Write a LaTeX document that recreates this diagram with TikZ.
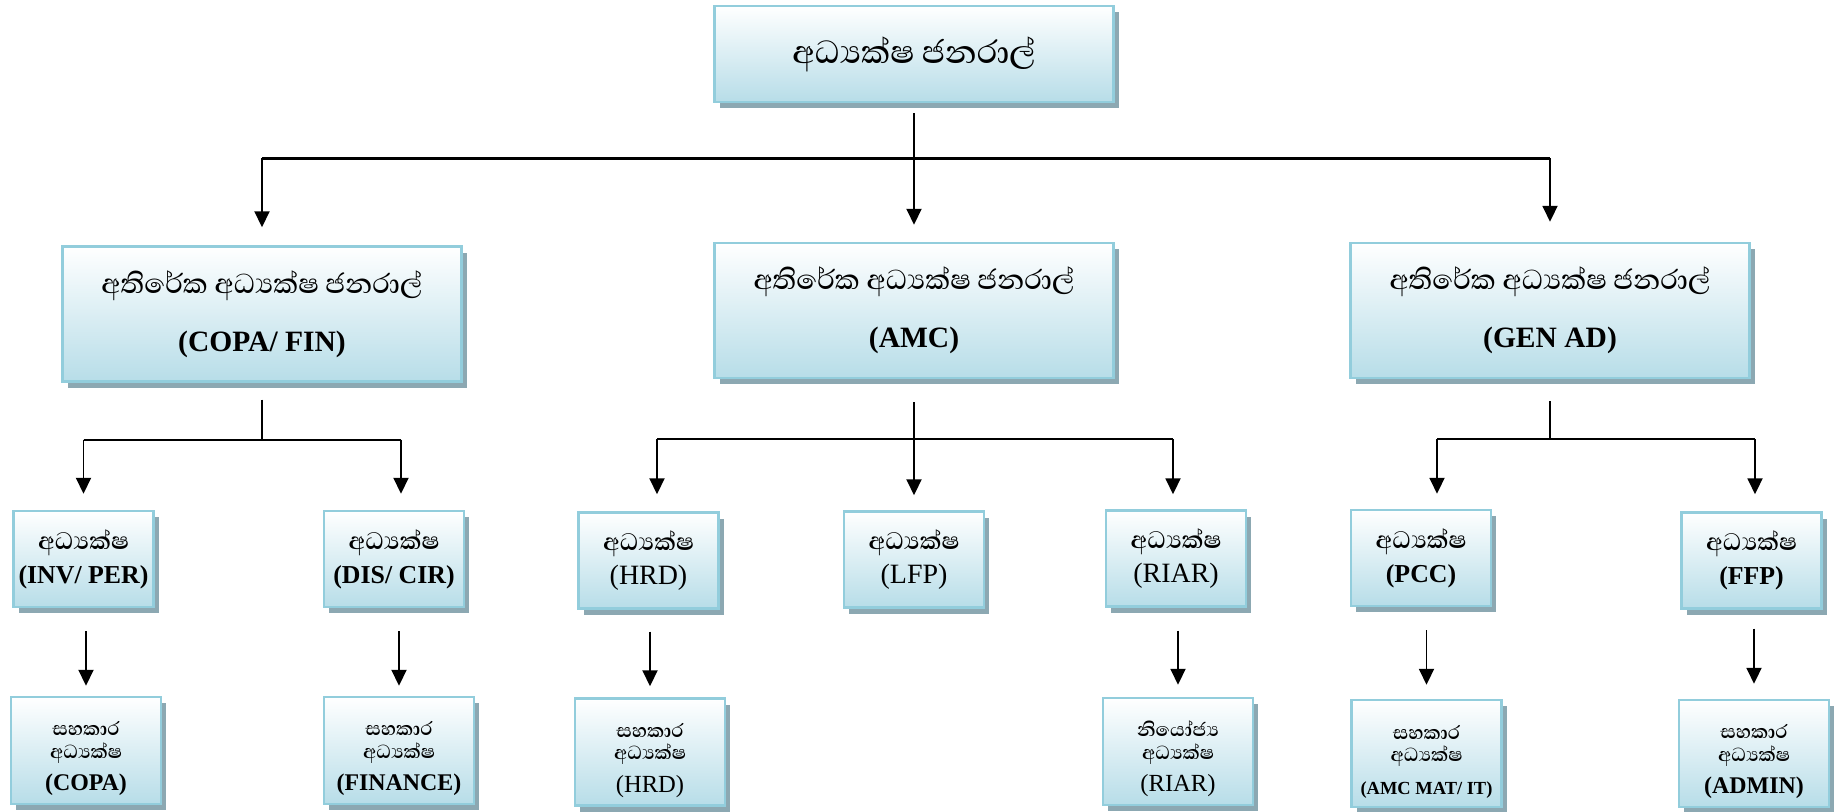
\documentclass[tikz,border=0pt]{standalone}
\usepackage{fontspec}
\setmainfont{Liberation Serif}
\newfontfamily\sinhfont[Script=Sinhala, BoldFont={* SemiBold}]{Abhaya Libre}
\newfontfamily\sinhmed[Script=Sinhala]{Abhaya Libre Medium}
\usepackage{xcolor}
\usetikzlibrary{positioning, arrows.meta, shadows}
\definecolor{BoxBlue}{RGB}{183, 221, 232}
\definecolor{BoxEdge}{RGB}{146, 205, 220}
\definecolor{ShadowGrey}{RGB}{140, 168, 178}

\begin{document}
\begin{tikzpicture}[
            box/.style={draw=BoxEdge, line width=1.4pt, top color=white, bottom color=BoxBlue, align=center, inner sep=2pt, drop shadow={shadow xshift=0.1cm, shadow yshift=-0.12cm, fill=ShadowGrey, opacity=1}},
            topbox/.style={box, minimum width=7.98cm, minimum height=1.92cm, font=\fontsize{23.4}{26}\selectfont},
            addbox/.style={box, minimum width=7.98cm, minimum height=2.7cm, font=\bfseries\fontsize{16.8}{20}\selectfont},
            dirbox/.style={box, minimum width=2.8cm, minimum height=1.92cm, font=\bfseries\fontsize{14.7}{17.6}\selectfont},
            asstbox/.style={box, minimum width=3cm, minimum height=2.14cm, font=\bfseries\fontsize{13.6}{15.3}\selectfont},
            link/.style={line width=1.1pt},
            arrow/.style={link, -{Triangle[length=0.32cm, width=0.3cm]}}
        ]
            \useasboundingbox (0,0) rectangle (36.72,-16.22);
            % director general
            \node[topbox] (dg) at (18.28,-1.08) {\sinhmed අධ්^^^^200dයක්ෂ ජනරාල්};
            % additional directors general
            \node[addbox] (a1) at (5.24,-6.28) {{\sinhmed\mdseries\fontsize{20}{20}\selectfont අතිරේක අධ්^^^^200dයක්ෂ ජනරාල්}\\[13pt](COPA/ FIN)};
            \node[addbox] (a2) at (18.28,-6.21) {{\sinhmed\mdseries\fontsize{20}{20}\selectfont අතිරේක අධ්^^^^200dයක්ෂ ජනරාල්}\\[13pt](AMC)};
            \node[addbox] (a3) at (31.0,-6.21) {{\sinhmed\mdseries\fontsize{20}{20}\selectfont අතිරේක අධ්^^^^200dයක්ෂ ජනරාල්}\\[13pt](GEN AD)};
            % directors
            \node[dirbox] (d1) at (1.67,-11.18) {{\sinhfont\fontsize{17.4}{17.6}\selectfont අධ්^^^^200dයක්ෂ}\\[1.7pt](INV/ PER)};
            \node[dirbox] (d2) at (7.88,-11.18) {{\sinhfont\fontsize{17.4}{17.6}\selectfont අධ්^^^^200dයක්ෂ}\\[1.7pt](DIS/ CIR)};
            \node[dirbox, font=\fontsize{15.9}{17.6}\selectfont] (d3) at (12.97,-11.21) {{\sinhfont\bfseries\fontsize{17.4}{17.6}\selectfont අධ්^^^^200dයක්ෂ}\\[1.7pt](HRD)};
            \node[dirbox, font=\fontsize{15.9}{17.6}\selectfont] (d4) at (18.28,-11.19) {{\sinhfont\bfseries\fontsize{17.4}{17.6}\selectfont අධ්^^^^200dයක්ෂ}\\[1.7pt](LFP)};
            \node[dirbox, font=\fontsize{15.9}{17.6}\selectfont] (d5) at (23.52,-11.17) {{\sinhfont\bfseries\fontsize{17.4}{17.6}\selectfont අධ්^^^^200dයක්ෂ}\\[1.7pt](RIAR)};
            \node[dirbox] (d6) at (28.42,-11.16) {{\sinhfont\fontsize{17.4}{17.6}\selectfont අධ්^^^^200dයක්ෂ}\\[1.7pt](PCC)};
            \node[dirbox] (d7) at (35.03,-11.21) {{\sinhfont\fontsize{17.4}{17.6}\selectfont අධ්^^^^200dයක්ෂ}\\[1.7pt](FFP)};
            % assistant and deputy directors
            \node[asstbox] (s1) at (1.72,-15.01) {{\sinhfont\fontsize{13.8}{15.3}\selectfont\rule{0pt}{17.5pt}සහකාර}\\[-2.5pt]{\sinhfont\fontsize{13.8}{15.3}\selectfont අධ්^^^^200dයක්ෂ}\\[3.2pt](COPA)};
            \node[asstbox] (s2) at (7.98,-15.01) {{\sinhfont\fontsize{13.8}{15.3}\selectfont\rule{0pt}{17.5pt}සහකාර}\\[-2.5pt]{\sinhfont\fontsize{13.8}{15.3}\selectfont අධ්^^^^200dයක්ෂ}\\[3.2pt](FINANCE)};
            \node[asstbox, font=\fontsize{14}{15.3}\selectfont] (s3) at (13.0,-15.04) {{\sinhfont\bfseries\fontsize{13.8}{15.3}\selectfont\rule{0pt}{17.5pt}සහකාර}\\[-2.5pt]{\sinhfont\bfseries\fontsize{13.8}{15.3}\selectfont අධ්^^^^200dයක්ෂ}\\[3.2pt](HRD)};
            \node[asstbox, font=\fontsize{14}{15.3}\selectfont] (s4) at (23.56,-15.03) {{\sinhfont\bfseries\fontsize{13.8}{15.3}\selectfont\rule{0pt}{17.5pt}නියෝජ්^^^^200dය}\\[-2.5pt]{\sinhfont\bfseries\fontsize{13.8}{15.3}\selectfont අධ්^^^^200dයක්ෂ}\\[3.2pt](RIAR)};
            \node[asstbox] (s5) at (28.53,-15.07) {{\sinhfont\fontsize{13.8}{15.3}\selectfont\rule{0pt}{17.5pt}සහකාර}\\[-2.5pt]{\sinhfont\fontsize{13.8}{15.3}\selectfont අධ්^^^^200dයක්ෂ}\\[3.2pt]{\fontsize{10.5}{15.3}\selectfont (AMC MAT/ IT)}};
            \node[asstbox] (s6) at (35.08,-15.07) {{\sinhfont\fontsize{13.8}{15.3}\selectfont\rule{0pt}{17.5pt}සහකාර}\\[-2.5pt]{\sinhfont\fontsize{13.8}{15.3}\selectfont අධ්^^^^200dයක්ෂ}\\[3.2pt](ADMIN)};

            % top level lines
            \coordinate[below=1.1cm of dg] (dgbus);
            \draw[link] ([yshift=-0.2cm]dg.south) -- (dgbus);
            \draw[link, line width=1.7pt] (a1.north |- dgbus) -- (a3.north |- dgbus);
            \draw[arrow, shorten >=0.36cm] (a1.north |- dgbus) -- (a1.north);
            \draw[arrow, shorten >=0.34cm] (a2.north |- dgbus) -- (a2.north);
            \draw[arrow, shorten >=0.4cm] (a3.north |- dgbus) -- (a3.north);

            % COPA/ FIN branch
            \coordinate[below=1.14cm of a1] (a1bus);
            \draw[link] ([yshift=-0.34cm]a1.south) -- (a1bus);
            \draw[link] (d1.north |- a1bus) -- ([xshift=0.14cm]d2.north |- a1bus);
            \draw[arrow, shorten >=0.32cm] (d1.north |- a1bus) -- (d1.north);
            \draw[arrow, shorten >=0.32cm] ([xshift=0.14cm]d2.north |- a1bus) -- ([xshift=0.14cm]d2.north);
            % AMC branch
            \coordinate[below=1.2cm of a2] (a2bus);
            \draw[link] ([yshift=-0.46cm]a2.south) -- (a2bus);
            \draw[link] ([xshift=0.17cm]d3.north |- a2bus) -- ([xshift=-0.06cm]d5.north |- a2bus);
            \draw[arrow, shorten >=0.34cm] ([xshift=0.17cm]d3.north |- a2bus) -- ([xshift=0.17cm]d3.north);
            \draw[arrow, shorten >=0.3cm] (d4.north |- a2bus) -- (d4.north);
            \draw[arrow, shorten >=0.3cm] ([xshift=-0.06cm]d5.north |- a2bus) -- ([xshift=-0.06cm]d5.north);
            % GEN AD branch
            \coordinate[below=1.2cm of a3] (a3bus);
            \draw[link] ([yshift=-0.44cm]a3.south) -- (a3bus);
            \draw[link] ([xshift=0.32cm]d6.north |- a3bus) -- ([xshift=0.07cm]d7.north |- a3bus);
            \draw[arrow, shorten >=0.3cm] ([xshift=0.32cm]d6.north |- a3bus) -- ([xshift=0.32cm]d6.north);
            \draw[arrow, shorten >=0.34cm] ([xshift=0.07cm]d7.north |- a3bus) -- ([xshift=0.07cm]d7.north);

            % directors to assistants
            \draw[arrow, shorten <=0.46cm, shorten >=0.2cm] (s1.north |- d1.south) -- (s1.north);
            \draw[arrow, shorten <=0.46cm, shorten >=0.2cm] (s2.north |- d2.south) -- (s2.north);
            \draw[arrow, shorten <=0.44cm, shorten >=0.22cm] (s3.north |- d3.south) -- (s3.north);
            \draw[arrow, shorten <=0.46cm, shorten >=0.24cm] (s4.north |- d5.south) -- (s4.north);
            \draw[arrow, shorten <=0.46cm, shorten >=0.28cm] (s5.north |- d6.south) -- (s5.north);
            \draw[arrow, shorten <=0.38cm, shorten >=0.3cm] (s6.north |- d7.south) -- (s6.north);
        \end{tikzpicture}
\end{document}
